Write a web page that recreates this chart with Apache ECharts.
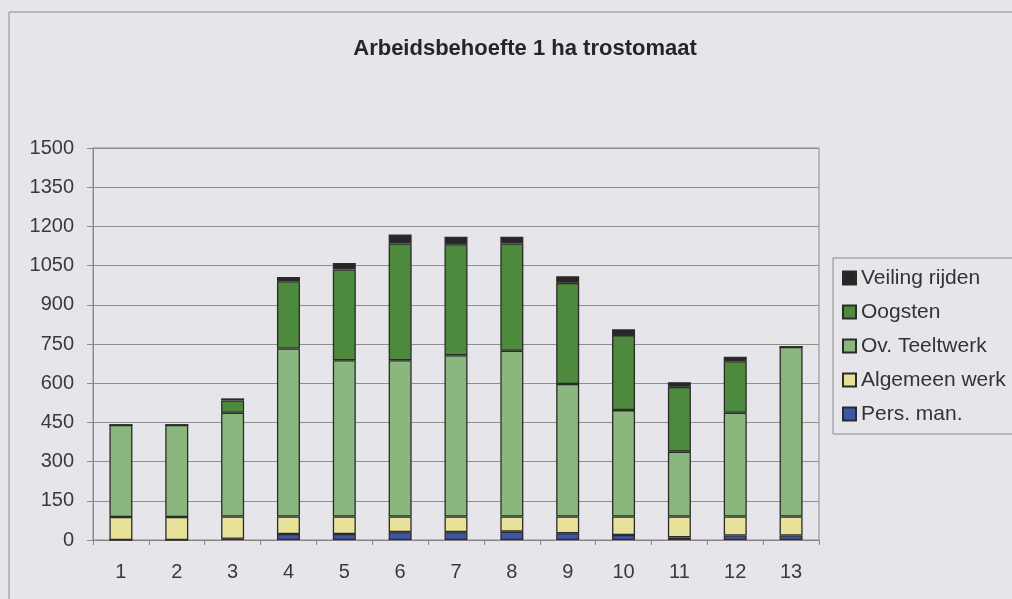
<!DOCTYPE html>
<html>
<head>
<meta charset="utf-8">
<script src="https://cdn.jsdelivr.net/npm/echarts@6/dist/echarts.min.js"></script>
<style>
  html, body { margin: 0; padding: 0; background: #e6e6ea; }
  #chart { width: 1012px; height: 599px; }
</style>
</head>
<body>
<div id="chart"></div>
<script>
var months = ["1", "2", "3", "4", "5", "6", "7", "8", "9", "10", "11", "12", "13"];
var yTicks = [0, 150, 300, 450, 600, 750, 900, 1050, 1200, 1350, 1500];

// uren per periode, onder naar boven gestapeld
var persMan = [0, 0, 5, 23, 23, 30, 30, 32, 26, 19, 10, 17, 17];
var algemeenWerk = [88, 88, 85, 67, 67, 60, 60, 58, 64, 71, 80, 73, 73];
var teeltwerk = [352, 352, 397, 643, 598, 598, 617, 634, 507, 407, 248, 397, 649];
var oogsten = [0, 0, 47, 257, 347, 447, 425, 411, 387, 287, 248, 197, 0];
var veiling = [0, 0, 8, 16, 25, 34, 28, 25, 25, 22, 18, 17, 0];

var textFont = "'Liberation Sans', Arial, sans-serif";

function barSerie(name, data, color) {
  return {
    name: name,
    type: "bar",
    stack: "totaal",
    barWidth: 23,
    data: data,
    itemStyle: { color: color, borderColor: "#2b2b2b", borderWidth: 1.3 },
  };
}

var myChart = echarts.init(document.getElementById("chart"));
var option = {
  backgroundColor: "#e6e6ea",
  animation: false,
  title: {
    text: "Arbeidsbehoefte 1 ha trostomaat",
    left: 520,
    textAlign: "center",
    top: 33,
    textStyle: { fontFamily: textFont, fontSize: 22, fontWeight: "bold", color: "#262626" },
  },
  graphic: [
    {
      type: "rect",
      shape: { x: 9, y: 12, width: 1100, height: 700 },
      style: { fill: "none", stroke: "#8a8a8a", lineWidth: 1 },
      silent: true,
    },
  ],
  legend: {
    orient: "vertical",
    left: 833,
    top: 258,
    data: ["Veiling rijden", "Oogsten", "Ov. Teeltwerk", "Algemeen werk", "Pers. man."],
    icon: "rect",
    itemWidth: 13,
    itemHeight: 13,
    itemGap: 12,
    padding: [9, 30, 9, 9],
    borderColor: "#8a8a8a",
    borderWidth: 1,
    textStyle: { fontFamily: textFont, fontSize: 21, lineHeight: 22, color: "#333" },
  },
  grid: {
    left: 93,
    right: 193,
    top: 148,
    bottom: 59,
    show: true,
    borderColor: "#8a8a8a",
    borderWidth: 1,
  },
  xAxis: {
    type: "category",
    data: months,
    axisLine: { lineStyle: { color: "#8a7f85", width: 1 } },
    axisTick: { show: true, length: 5, lineStyle: { color: "#8a7f85" } },
    axisLabel: { margin: 22, fontFamily: textFont, fontSize: 20, color: "#3a3a3a" },
  },
  yAxis: {
    type: "value",
    min: yTicks[0],
    max: yTicks[yTicks.length - 1],
    interval: yTicks[1] - yTicks[0],
    axisLine: { show: true, lineStyle: { color: "#8a8a8a" } },
    axisTick: { show: true, length: 6, lineStyle: { color: "#8a8a8a" } },
    axisLabel: {
      margin: 19,
      fontFamily: textFont,
      fontSize: 20,
      color: "#3a3a3a",
      formatter: function (v) {
        return String(v);
      },
    },
    splitLine: { lineStyle: { color: "#8f8f8f", width: 1 } },
  },
  series: [
    barSerie("Pers. man.", persMan, "#3d56a6"),
    barSerie("Algemeen werk", algemeenWerk, "#e8e19a"),
    barSerie("Ov. Teeltwerk", teeltwerk, "#8ab77e"),
    barSerie("Oogsten", oogsten, "#4e8a3e"),
    barSerie("Veiling rijden", veiling, "#262626"),
  ],
};
myChart.setOption(option);
</script>
</body>
</html>
